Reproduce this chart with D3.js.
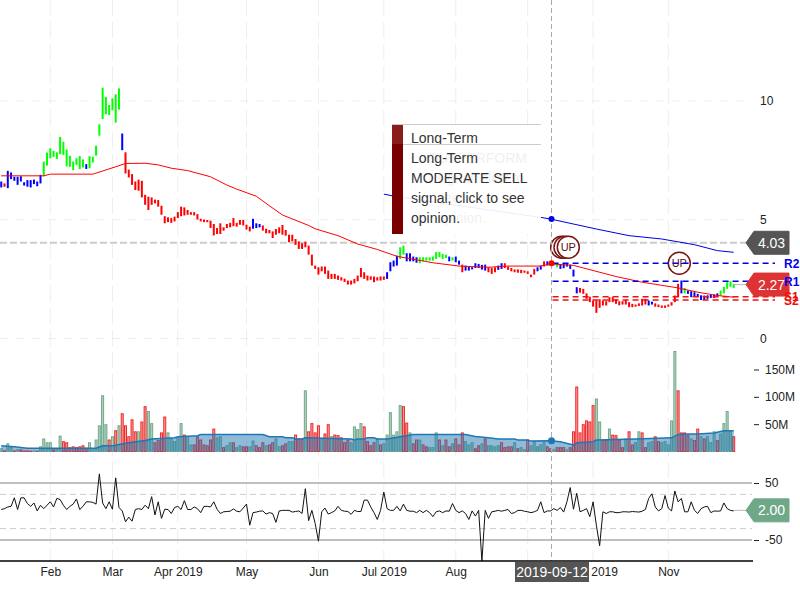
<!DOCTYPE html>
<html>
<head>
<meta charset="utf-8">
<script src="https://cdnjs.cloudflare.com/ajax/libs/d3/7.8.5/d3.min.js"></script>
<style>
html, body { margin: 0; padding: 0; background: #fff; }
svg { display: block; font-family: "Liberation Sans", Arial, sans-serif; }
</style>
</head>
<body>
<div id="wrapper"></div>
<script>
// trading day index of each month start, and what is written there
// (September's own label sits under the date tag, so it stays empty)
const monthIdx = [15, 34, 54, 75, 97, 117, 139, 161, 181, 204]
const monthLabels = ["Feb", "Mar", "Apr 2019", "May", "Jun", "Jul 2019", "Aug", "", "Oct 2019", "Nov"]

const highs = [
    6.61, 6.53, 7.06, 6.99, 6.81, 6.81, 6.83, 6.58, 6.67, 6.67,
    6.69, 6.61, 6.89, 7.45, 7.83, 8.01, 7.90, 7.84, 8.49, 8.28,
    7.96, 7.69, 7.45, 7.59, 7.68, 7.54, 7.34, 7.68, 7.65, 8.12,
    9.02, 10.56, 10.17, 9.83, 10.11, 10.28, 10.53, 8.63, 7.84, 7.11,
    6.92, 6.61, 6.69, 6.64, 6.05, 5.97, 5.94, 5.85, 5.83, 5.59,
    5.15, 5.10, 5.07, 5.13, 5.32, 5.55, 5.52, 5.41, 5.32, 5.32,
    5.24, 5.04, 5.01, 4.99, 4.96, 4.82, 4.65, 4.85, 4.68, 4.82,
    4.87, 5.07, 4.87, 4.99, 4.99, 4.79, 4.71, 5.04, 4.85, 4.82,
    4.76, 4.62, 4.57, 4.51, 4.61, 4.68, 4.78, 4.57, 4.37, 4.37,
    4.19, 4.09, 4.01, 4.08, 3.91, 3.53, 3.07, 3.00, 3.03, 3.03,
    2.86, 2.72, 2.72, 2.65, 2.58, 2.52, 2.44, 2.44, 2.51, 2.65,
    2.97, 2.79, 2.65, 2.62, 2.61, 2.58, 2.61, 2.61, 2.79, 3.21,
    3.28, 3.49, 3.84, 3.91, 3.59, 3.59, 3.45, 3.42, 3.42, 3.42,
    3.42, 3.42, 3.45, 3.64, 3.64, 3.56, 3.53, 3.45, 3.42, 3.45,
    3.28, 3.11, 3.07, 3.03, 3.00, 3.17, 3.14, 3.10, 3.11, 3.00,
    2.97, 3.00, 3.07, 3.17, 3.17, 3.03, 2.97, 2.91, 2.91, 2.89,
    2.86, 2.83, 2.69, 2.93, 3.00, 3.07, 3.25, 3.25, 3.24, 3.19,
    3.17, 3.14, 3.17, 3.17, 3.11, 2.90, 2.16, 2.13, 2.09, 1.90,
    1.76, 1.60, 1.60, 1.65, 1.60, 1.57, 1.74, 1.74, 1.65, 1.57,
    1.57, 1.62, 1.53, 1.46, 1.43, 1.48, 1.67, 1.67, 1.60, 1.55,
    1.48, 1.43, 1.39, 1.39, 1.43, 1.53, 1.81, 2.30, 2.44, 2.13,
    2.02, 1.99, 1.95, 1.88, 1.82, 1.81, 1.82, 1.85, 1.85, 1.90,
    2.02, 2.18, 2.37, 2.41, 2.30
]
const lows = [
    6.36, 6.39, 6.33, 6.71, 6.64, 6.47, 6.61, 6.44, 6.39, 6.36,
    6.50, 6.41, 6.53, 6.83, 7.28, 7.59, 7.65, 7.56, 7.76, 7.73,
    7.25, 7.23, 7.09, 7.31, 7.13, 7.20, 7.14, 7.17, 7.41, 7.70,
    8.54, 9.24, 9.44, 9.41, 9.61, 9.09, 9.64, 7.93, 6.95, 6.78,
    6.47, 6.25, 6.22, 5.94, 5.63, 5.41, 5.63, 5.69, 5.55, 5.21,
    4.85, 4.90, 4.87, 4.93, 5.07, 5.15, 5.18, 5.21, 5.21, 5.18,
    5.01, 4.93, 4.90, 4.90, 4.65, 4.34, 4.40, 4.40, 4.54, 4.65,
    4.68, 4.73, 4.71, 4.79, 4.76, 4.59, 4.51, 4.62, 4.65, 4.68,
    4.54, 4.43, 4.43, 4.23, 4.37, 4.43, 4.37, 4.33, 4.05, 4.09,
    3.94, 3.77, 3.77, 3.84, 3.53, 3.07, 2.93, 2.69, 2.83, 2.72,
    2.51, 2.51, 2.51, 2.47, 2.44, 2.38, 2.27, 2.27, 2.32, 2.41,
    2.58, 2.51, 2.44, 2.47, 2.37, 2.44, 2.44, 2.47, 2.51, 2.83,
    3.03, 3.07, 3.35, 3.53, 3.25, 3.25, 3.25, 3.19, 3.17, 3.25,
    3.28, 3.28, 3.28, 3.35, 3.42, 3.35, 3.39, 3.25, 3.28, 3.21,
    3.11, 2.79, 2.86, 2.86, 2.91, 2.97, 2.97, 2.90, 2.86, 2.79,
    2.72, 2.79, 2.89, 2.93, 2.97, 2.89, 2.83, 2.79, 2.77, 2.75,
    2.77, 2.72, 2.58, 2.69, 2.83, 2.90, 3.03, 3.07, 3.05, 3.07,
    3.00, 2.93, 2.96, 3.03, 2.93, 2.61, 1.90, 1.93, 1.88, 1.67,
    1.53, 1.34, 1.08, 1.29, 1.39, 1.39, 1.53, 1.53, 1.46, 1.40,
    1.43, 1.43, 1.32, 1.32, 1.34, 1.37, 1.39, 1.43, 1.39, 1.43,
    1.34, 1.32, 1.29, 1.29, 1.34, 1.39, 1.53, 1.74, 1.90, 1.90,
    1.88, 1.74, 1.76, 1.74, 1.62, 1.62, 1.67, 1.71, 1.71, 1.76,
    1.81, 1.90, 2.09, 2.18, 2.13
]
// bar state, as [letter, how many bars in a row]
const barRuns = [
    ["b",1],["r",1],["b",11],["g",13],["b",1],["g",10],["b",1],["r",39],["b",3],["r",38],
    ["b",4],["g",2],["b",4],["g",9],["b",1],["g",1],["b",2],["r",1],["b",7],["r",3],
    ["b",2],["r",10],["b",2],["r",1],["b",1],["g",3],["b",6],["r",21],["b",2],["r",8],
    ["b",1],["g",1],["b",10],["g",7]
]
const barColors = { b: "#0000ff", r: "#ff0000", g: "#00ff00" }

// long moving average, read at its corners
const maIdx = [0, 13, 15, 28, 35, 38, 44, 48, 52, 57, 64, 69, 72, 78, 82, 86, 94, 96, 103, 109, 115, 121, 132, 140, 149, 155, 165, 168, 175, 178, 188, 196, 207, 213, 219, 224]
const maValues = [6.85, 6.85, 6.92, 6.92, 7.23, 7.37, 7.38, 7.31, 7.17, 7.07, 6.81, 6.46, 6.29, 5.99, 5.59, 5.20, 4.76, 4.62, 4.33, 3.98, 3.75, 3.46, 3.19, 3.05, 3.00, 3.05, 3.05, 3.14, 3.08, 2.97, 2.61, 2.37, 2.13, 1.95, 1.81, 1.74]

const trendIdx = [117, 121, 165, 168, 182, 192, 202, 212, 219, 224]
const trendValues = [6.08, 5.97, 5.10, 5.03, 4.61, 4.33, 4.19, 3.95, 3.70, 3.63]

const pivotLevels = [3.17, 2.41, 1.76, 1.62]
const pivotLabels = ["R2", "R1", "S1", "S2"]
const lastPrice = 2.27
const refPrice = 4.03

// volume in millions
const volumes = [
    5, 1, 14, 7, 1, 3, 3, 1, 1, 0.5,
    1, 0.5, 8.5, 23, 16, 16, 3, 4, 28, 18,
    16, 7, 8.5, 7, 8.5, 10.5, 6, 16, 3, 21,
    47, 102, 49, 21, 27, 38, 47, 69, 47, 27,
    58, 36, 36, 54, 82, 73, 51, 16, 20, 34,
    63, 34, 23, 18, 25, 51, 30, 27, 12, 12,
    27, 21, 12, 10.5, 21, 41, 25, 27, 7, 10.5,
    16, 16, 7, 10.5, 8.5, 8.5, 8.5, 19, 10.5, 7,
    16, 10.5, 12, 16, 23, 8.5, 10.5, 14, 18, 18,
    30, 23, 23, 111, 36, 51, 34, 47, 23, 32,
    49, 27, 30, 29, 25, 16, 21, 16, 45, 40,
    51, 45, 18, 10.5, 16, 23, 12, 14, 30, 71,
    30, 36, 84, 82, 52, 34, 14, 21, 21, 12,
    8.5, 7, 7, 34, 21, 10.5, 21, 8.5, 14, 23,
    12, 34, 18, 12, 16, 5, 10.5, 14, 23, 10.5,
    10.5, 8.5, 10.5, 16, 7, 8.5, 8.5, 16, 5, 7,
    3, 21, 10.5, 18, 8.5, 12, 16, 8.5, 5, 3,
    7, 7, 7, 3, 7, 36, 118, 34, 49, 56,
    54, 84, 96, 54, 20, 20, 41, 30, 29, 21,
    7, 23, 36, 12, 16, 36, 34, 7, 16, 18,
    27, 18, 16, 18, 12, 56, 183, 111, 34, 34,
    29, 23, 20, 41, 27, 23, 27, 16, 36, 20,
    32, 51, 73, 37, 27
]
const volumeSides = (
    "grggrgrrrr" + "grggggrggr" + "rrrrrrrggg" + "gggrgrgrrr" + "rrgrrggrrr" +
    "rgggggrggr" + "rrrrrrggrg" + "grggrrggrr" + "rgrrggrrgg" + "rrrgrrrrgr" +
    "rgrrrrrggg" + "grrrrgrggg" + "gggrrgrrgr" + "rgggrgrrgr" + "rrgggrrgrg" +
    "gggrrrrgrg" + "grgggggrrg" + "rrrgrrrrrr" + "rrggrrgrrr" + "rgrrggrrgg" +
    "rrgggggrrr" + "rgrrgrgggr" + "ggggr"
).split("")

const volMaIdx = [0, 4, 8, 29, 31, 34, 39, 44, 46, 53, 54, 60, 61, 80, 82, 86, 87, 89, 90, 92, 93, 107, 108, 109, 111, 112, 114, 115, 118, 122, 126, 142, 145, 149, 152, 157, 158, 161, 162, 168, 171, 175, 176, 181, 182, 194, 205, 207, 209, 213, 218, 221, 224]
const volMaValues = [10.5, 8.5, 6, 6, 10.5, 10.5, 16, 20, 23, 25, 27, 29, 31, 31, 27, 27, 25, 25, 23, 23, 25, 23, 21, 23, 23, 25, 25, 23, 23, 27, 31, 31, 27.5, 25, 23, 23, 21, 21, 19, 19.5, 18, 12, 16, 18, 21, 23, 25, 31, 32, 32, 34, 38, 38]

const cciValues = [
    3.5, 5, 8, 9, 24, 3.5, 24, 24, 14, 9,
    15, 1, 11, 5, 11, 17, 8, 23, 21, 11,
    3.5, 9, 13, 22, 3.5, 9, 17, 17, 16, 13,
    66, 15, 5, 17, 4, 59, 7, 1, -18, -10,
    -17, 3.5, 5, 3.5, 11, 5, 26, -6, 17, -12,
    4, 3.5, -3.5, 7, 9, 3.5, 19, 3.5, 3.5, 8,
    5, -2, 9, 9, 8, 17, 4, -3.5, -0.5, 0,
    0.5, 4.5, 0.5, -0.5, 6, 13, -24, -2, -1, 0.5,
    1, -4.5, -2, -3.5, -19, 1, 2, 2, 2, -1,
    0, 1, -3.5, 40, -16, 2, -21, -52, -0.5, 6,
    -4.5, -2, 1, 9, 2, 0.5, 0, -5, 2, 0,
    0, 20, 20, 8, -2, -14, 2, 34, 5, 2,
    2, 9, 1, 13, 2, 0.5, 0.5, -2, 2, -2,
    2, -2, -9, -0.5, 1, -2, 1, 0.5, 14, 2,
    -2, 1, -3.5, -14, 1, -8, 2, -87, 2, -12,
    -0.5, 0.5, 2, 0.5, 2, 3.5, -3.5, -2, 2, 2,
    0.5, -0.5, -2, -0.5, 2, 17, -2, 1, 1, 5,
    2, 7, -1, 17, 42, 4, 32, -0.5, 2, 5,
    -9, 17, -24, -60, -0.5, -3.5, -0.5, -0.5, -2, -2,
    -0.5, -0.5, -1, 0, -0.5, -1, 0.5, 3.5, 23, 31,
    8, 1, 5, 28, 6, 1, 36, 17, 23, -0.5,
    -0.5, 17, 2, -3.5, 5, 8, 9, -2, 1, 0.5,
    1, 15, 5, 2, 1
]
const cciLast = 2.00

const crossIdx = 168
const crossDate = "2019-09-12"
const tipLines = ["Long-Term", "MODERATE SELL", "signal, click to see", "opinion."]
const tipGhostLines = ["OUTPERFORM", "signal, click to", "see", "opinion."]

const width = 800
const height = 600
const chartRight = 753
const axisY = 561

const barStates = barRuns.flatMap(r => d3.range(r[1]).map(() => r[0]))

const svg = d3.select("#wrapper").append("svg").attr("width", width).attr("height", height)

const x = d3.scaleLinear().domain([0, 224]).range([1.25, 733.7])
const yPrice = d3.scaleLinear().domain([0, 10]).range([338.5, 101])
const yVol = d3.scaleLinear().domain([0, 150]).range([451.5, 369.5])
const yCci = d3.scaleLinear().domain([-50, 50]).range([540, 483])

// grid
const grid = svg.append("g")
grid.selectAll("line.v").data(monthIdx).enter().append("line")
    .attr("x1", d => x(d)).attr("x2", d => x(d))
    .attr("y1", 0).attr("y2", axisY)
    .attr("stroke", "#eee").attr("stroke-dasharray", "16,6")
grid.selectAll("line.h").data([0, 5, 10]).enter().append("line")
    .attr("x1", 0).attr("x2", chartRight)
    .attr("y1", d => yPrice(d)).attr("y2", d => yPrice(d))
    .attr("stroke", "#eee").attr("stroke-dasharray", "8,8")

// reference price
svg.append("line")
    .attr("x1", 0).attr("x2", 748)
    .attr("y1", yPrice(refPrice)).attr("y2", yPrice(refPrice))
    .attr("stroke", "#ccc").attr("stroke-width", 2).attr("stroke-dasharray", "7,3")

// price bars
svg.append("g").selectAll("line").data(highs).enter().append("line")
    .attr("x1", (d, i) => x(i)).attr("x2", (d, i) => x(i))
    .attr("y1", d => yPrice(d)).attr("y2", (d, i) => yPrice(lows[i]))
    .attr("stroke", (d, i) => barColors[barStates[i]])
    .attr("stroke-width", 2)

const priceLine = d3.line().x(d => x(d[0])).y(d => yPrice(d[1]))
svg.append("path").datum(d3.zip(maIdx, maValues))
    .attr("d", priceLine).attr("fill", "none").attr("stroke", "#f00").attr("stroke-width", 1)
svg.append("path").datum(d3.zip(trendIdx, trendValues))
    .attr("d", priceLine).attr("fill", "none").attr("stroke", "#0000e0").attr("stroke-width", 1)

// UP flags
const flags = [[561.7, 247.3, false], [565, 247.3, false], [568.3, 247.3, true], [679.3, 263.3, true]]
flags.forEach(f => {
    svg.append("circle").attr("cx", f[0]).attr("cy", f[1]).attr("r", 11)
        .attr("fill", "#fff").attr("stroke", "#7a1414").attr("stroke-width", 1.5)
    if (f[2]) svg.append("text").attr("x", f[0]).attr("y", f[1] + 4)
        .attr("text-anchor", "middle").attr("font-size", 11).attr("fill", "#5a1010").text("UP")
})

// pivots
pivotLevels.forEach((lv, i) => {
    const col = i < 2 ? "#0000e6" : "#f01010"
    svg.append("line")
        .attr("x1", x(crossIdx) + 2).attr("x2", 775)
        .attr("y1", yPrice(lv)).attr("y2", yPrice(lv))
        .attr("stroke", col).attr("stroke-width", 1.6).attr("stroke-dasharray", "6,4")
})

// last price connector
svg.append("line").attr("x1", x(224)).attr("x2", 748)
    .attr("y1", yPrice(lastPrice)).attr("y2", yPrice(lastPrice))
    .attr("stroke", "#bbb")

// volume
svg.append("g").selectAll("rect").data(volumes).enter().append("rect")
    .attr("x", (d, i) => x(i) - 1)
    .attr("width", 2)
    .attr("y", d => yVol(d))
    .attr("height", d => yVol(0) - yVol(d))
    .attr("fill", (d, i) => volumeSides[i] == "r" ? "#f9a0a0" : "#b4d4c2")
    .attr("stroke", (d, i) => volumeSides[i] == "r" ? "#ee2a2a" : "#6fa889")
    .attr("stroke-width", 1)

const volMa = d3.zip(volMaIdx, volMaValues)
svg.append("path").datum(volMa)
    .attr("d", d3.area().x(d => x(d[0])).y0(yVol(0)).y1(d => yVol(d[1])))
    .attr("fill", "#1f77b4").attr("fill-opacity", 0.5)
svg.append("path").datum(volMa)
    .attr("d", d3.line().x(d => x(d[0])).y(d => yVol(d[1])))
    .attr("fill", "none").attr("stroke", "#1f77b4").attr("stroke-width", 1.5)

// oscillator guides
;[50, -50].forEach(v => {
    svg.append("line").attr("x1", 0).attr("x2", 752).attr("y1", yCci(v)).attr("y2", yCci(v))
        .attr("stroke", "#aaa").attr("stroke-width", 1.5)
})
;[30, -30].forEach(v => {
    svg.append("line").attr("x1", 0).attr("x2", 752).attr("y1", yCci(v)).attr("y2", yCci(v))
        .attr("stroke", "#ccc").attr("stroke-dasharray", "6,4")
})
svg.append("line").attr("x1", x(224)).attr("x2", 748)
    .attr("y1", yCci(cciLast)).attr("y2", yCci(cciLast)).attr("stroke", "#bbb")
svg.append("path").datum(cciValues)
    .attr("d", d3.line().x((d, i) => x(i)).y(d => yCci(d)))
    .attr("fill", "none").attr("stroke", "#111").attr("stroke-width", 1)

// crosshair
svg.append("line").attr("x1", 551.5).attr("x2", 551.5).attr("y1", 0).attr("y2", axisY)
    .attr("stroke", "#aaa").attr("stroke-dasharray", "5,3")
svg.append("circle").attr("cx", 551.5).attr("cy", yPrice(trendValues[3])).attr("r", 3).attr("fill", "#0000e0")
svg.append("circle").attr("cx", 551.5).attr("cy", yPrice(pivotLevels[0])).attr("r", 3).attr("fill", "#f00")
svg.append("circle").attr("cx", 551.5).attr("cy", yVol(volMaValues[volMaIdx.indexOf(crossIdx)])).attr("r", 3.5).attr("fill", "#1f77b4")

// x axis
const xAxis = d3.axisBottom(d3.scaleLinear().domain(x.domain()).range(x.range()))
    .tickValues(monthIdx)
    .tickFormat((d, i) => monthLabels[i])
    .tickSize(0).tickPadding(6)
const xg = svg.append("g").attr("transform", `translate(0,${axisY})`).call(xAxis)
xg.select(".domain").remove()
xg.selectAll("text").attr("font-size", 12).attr("font-family", "inherit").attr("fill", "#222")
svg.append("line").attr("x1", 0).attr("x2", chartRight).attr("y1", axisY).attr("y2", axisY)
    .attr("stroke", "#000").attr("stroke-width", 1.5)

// right axes
function rightAxis(scale, values, fmt, size, pad) {
    const g = svg.append("g").attr("transform", "translate(754,0)")
        .call(d3.axisRight(scale).tickValues(values).tickFormat(fmt).tickSize(size).tickPadding(pad))
    g.select(".domain").remove()
    g.selectAll("line").attr("stroke", "#222")
    g.selectAll("text").attr("font-size", 12).attr("font-family", "inherit").attr("fill", "#222")
}
rightAxis(yPrice, [0, 5, 10], d => d, 0, 6)
rightAxis(yVol, [50, 100, 150], d => d + "M", 5, 6)
rightAxis(yCci, [50, -50], d => d, 5, 6)

// value labels
function valueTag(yMid, text, col) {
    const h = 11.5
    const pts = [[746, yMid], [754, yMid - h], [789, yMid - h], [789, yMid + h], [754, yMid + h]]
    svg.append("polygon").attr("points", pts.join(" ")).attr("fill", col).attr("stroke", col).attr("stroke-linejoin", "round")
    svg.append("text").attr("x", 771.5).attr("y", yMid + 5).attr("text-anchor", "middle")
        .attr("font-size", 14).attr("fill", "#fff").text(text)
}
valueTag(yPrice(refPrice), refPrice.toFixed(2), "#555")
valueTag(yPrice(lastPrice), lastPrice.toFixed(2), "#dd3333")
valueTag(yCci(cciLast), cciLast.toFixed(2), "#6fa889")

pivotLabels.forEach((t, i) => {
    svg.append("text").attr("x", 784).attr("y", yPrice(pivotLevels[i]) + 4.5)
        .attr("font-size", 12).attr("font-weight", "bold")
        .attr("fill", i < 2 ? "#0000e6" : "#f01010").text(t)
})

// date tag on the crosshair
svg.append("rect").attr("x", 515).attr("y", 562).attr("width", 74).attr("height", 20).attr("fill", "#555")
svg.append("text").attr("x", 552).attr("y", 577).attr("text-anchor", "middle")
    .attr("font-size", 14).attr("fill", "#fff").text(crossDate)

// tooltip, with the previous one still fading under it
const ghost = svg.append("g").attr("font-size", 14).attr("fill", "#333")
tipGhostLines.forEach((t, i) => {
    ghost.append("text").attr("x", i == 0 ? 527 : 437).attr("y", 163 + i * 20)
        .attr("text-anchor", i == 0 ? "end" : "start").text(t)
})
svg.append("rect").attr("x", 392).attr("y", 124).attr("width", 149).attr("height", 110)
    .attr("fill", "#fff").attr("fill-opacity", 0.92)
svg.append("rect").attr("x", 392).attr("y", 124).attr("width", 11).attr("height", 20).attr("fill", "#8b1c1c")
svg.append("rect").attr("x", 392).attr("y", 144).attr("width", 11).attr("height", 90).attr("fill", "#7a0000")
svg.append("text").attr("x", 411).attr("y", 143).attr("font-size", 14).attr("fill", "#333").text("Long-Term")
svg.append("rect").attr("x", 403).attr("y", 144.5).attr("width", 138).attr("height", 4).attr("fill", "#fff")
svg.append("line").attr("x1", 392).attr("x2", 541).attr("y1", 124.5).attr("y2", 124.5).attr("stroke", "#ccc")
svg.append("line").attr("x1", 403).attr("x2", 541).attr("y1", 144.5).attr("y2", 144.5).attr("stroke", "#ccc")
tipLines.forEach((t, i) => {
    svg.append("text").attr("x", 411).attr("y", 163 + i * 20)
        .attr("font-size", 14).attr("fill", "#333").text(t)
})
</script>
</body>
</html>
